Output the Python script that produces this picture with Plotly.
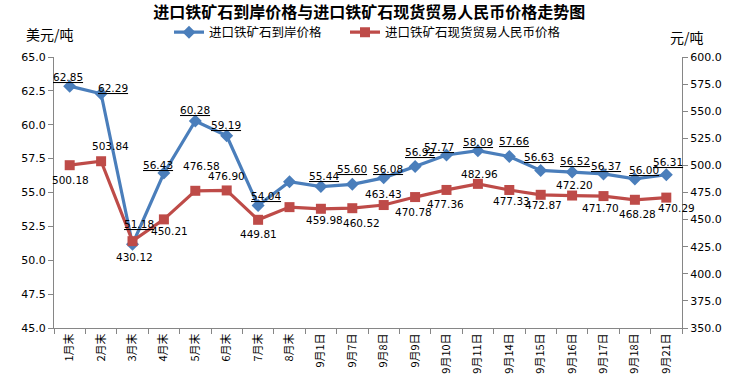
import plotly.graph_objects as go

categories = ["1月末", "2月末", "3月末", "4月末", "5月末", "6月末", "7月末", "8月末",
              "9月1日", "9月7日", "9月8日", "9月9日", "9月10日", "9月11日", "9月14日",
              "9月15日", "9月16日", "9月17日", "9月18日", "9月21日"]
cif_usd = [62.85, 62.29, 51.18, 56.43, 60.28, 59.19, 54.04, 55.80, 55.44, 55.60,
           56.08, 56.92, 57.77, 58.09, 57.66, 56.63, 56.52, 56.37, 56.00, 56.31]
spot_rmb = [500.18, 503.84, 430.12, 450.21, 476.58, 476.90, 449.81, 461.50, 459.98, 460.52,
            463.43, 470.78, 477.36, 482.96, 477.33, 472.87, 472.20, 471.70, 468.28, 470.29]
cif_show_label = [True] * 7 + [False] + [True] * 12
spot_show_label = [True] * 7 + [False] + [True] * 12

# label offsets (pixels) relative to each point: (dx, dy), dy positive = up
cif_label_dx = [-2, 12, 6, -6, 0, -1, 8, 0, 3, 0, 4, 5, -8, 0, 5, -2, 3, 2, 9, 2]
cif_label_dy = [9, 6, 20, 8, 11, 11, 10, 0, 11, 15, 9, 14, 8, 9, 15, 13, 11, 8, 9, 13]
spot_label_dx = [1, 9, 2, 6, 6, 0, 0, 0, 4, 9, 0, -2, -1, 2, 2, 3, 2, -3, 3, 10]
spot_label_dy = [-15, 15, -16, -12, 25, 14, -14, 0, -11, -15, 11, -15, -14, 10, -11, -10, 11, -12, -14, -10]

blue = "#4A7EBB"
red = "#BE4B48"
font_cn = "Noto Sans CJK SC"
num_font = "DejaVu Sans, Noto Sans CJK SC"

fig = go.Figure()
fig.add_trace(go.Scatter(
    x=categories, y=cif_usd, name="进口铁矿石到岸价格",
    mode="lines+markers",
    line=dict(color=blue, width=3.2),
    marker=dict(symbol="diamond", size=10, color=blue),
    yaxis="y", cliponaxis=False, legend="legend",
))
fig.add_trace(go.Scatter(
    x=categories, y=spot_rmb, name="进口铁矿石现货贸易人民币价格",
    mode="lines+markers",
    line=dict(color=red, width=3.2),
    marker=dict(symbol="square", size=10, color=red),
    yaxis="y2", cliponaxis=False, legend="legend2",
))

annotations = []
for c, v, s, dx, dy in zip(categories, cif_usd, cif_show_label, cif_label_dx, cif_label_dy):
    if s:
        annotations.append(dict(x=c, y=v, xref="x", yref="y", text="<u>%.2f</u>" % v,
                                showarrow=False, xshift=dx, yshift=dy,
                                xanchor="center", yanchor="middle",
                                font=dict(family=num_font, size=10.5, color="black")))
for c, v, s, dx, dy in zip(categories, spot_rmb, spot_show_label, spot_label_dx, spot_label_dy):
    if s:
        annotations.append(dict(x=c, y=v, xref="x", yref="y2", text="%.2f" % v,
                                showarrow=False, xshift=dx, yshift=dy,
                                xanchor="center", yanchor="middle",
                                font=dict(family=num_font, size=10.5, color="black")))

L, R, T, B = 54, 64, 57, 60
PW, PH = 746 - L - R, 388 - T - B
annotations += [
    dict(text="美元/吨", xref="paper", yref="paper", x=(24 - L) / PW, y=(388 - B - 34) / PH,
         xanchor="left", yanchor="middle", showarrow=False,
         font=dict(family=font_cn, size=14, color="black")),
    dict(text="元/吨", xref="paper", yref="paper", x=(706 - L) / PW, y=(388 - B - 37) / PH,
         xanchor="right", yanchor="middle", showarrow=False,
         font=dict(family=font_cn, size=14, color="black")),
]

legend_style = dict(orientation="h", xanchor="left", yref="container",
                    y=1 - 32.5 / 388, yanchor="middle",
                    font=dict(family=font_cn, size=12.5, color="black"),
                    bgcolor="rgba(0,0,0,0)", itemwidth=30)

axis_line = "#868686"
fig.update_layout(
    width=746, height=388,
    margin=dict(l=L, r=R, t=T, b=B, autoexpand=False),
    paper_bgcolor="white", plot_bgcolor="white",
    font=dict(family=num_font, size=11, color="black"),
    showlegend=True,
    title=dict(text="<b>进口铁矿石到岸价格与进口铁矿石现货贸易人民币价格走势图</b>",
               x=0.495, xanchor="center", xref="container",
               yref="container", y=1 - 12 / 388, yanchor="middle",
               font=dict(family=font_cn, size=16, color="black")),
    legend=dict(x=(169 - L) / PW, **legend_style),
    legend2=dict(x=(345 - L) / PW, **legend_style),
    xaxis=dict(type="category", range=[-0.5, len(categories) - 0.5], automargin=False,
               showline=True, linecolor=axis_line, linewidth=1,
               ticks="outside", tickson="boundaries", ticklen=5, tickcolor=axis_line,
               tickangle=-90, showgrid=False, zeroline=False,
               tickfont=dict(family=font_cn, size=11, color="black")),
    yaxis=dict(range=[45, 65], dtick=2.5, tickformat=".1f", automargin=False,
               showline=True, linecolor=axis_line, linewidth=1,
               ticks="outside", ticklen=5, tickcolor=axis_line,
               showgrid=False, zeroline=False,
               tickfont=dict(size=11, color="black")),
    yaxis2=dict(range=[350, 600], dtick=25, tickformat=".1f", automargin=False,
                overlaying="y", side="right",
                showline=True, linecolor=axis_line, linewidth=1,
                ticks="outside", ticklen=5, tickcolor=axis_line,
                showgrid=False, zeroline=False,
                tickfont=dict(size=11, color="black")),
    annotations=annotations,
)

fig.write_html("out.html", config={"displayModeBar": False},
               post_script="document.body.style.margin='0px';")
